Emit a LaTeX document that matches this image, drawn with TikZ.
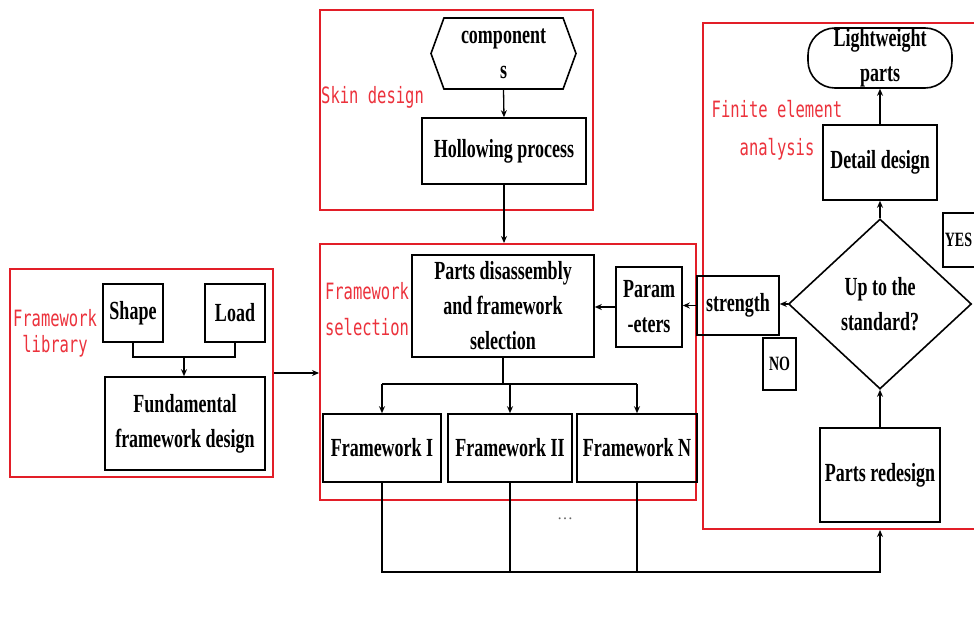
\documentclass[tikz,border=0pt]{standalone}
\usepackage{fontspec}
\setmainfont{Liberation Serif}
\newfontfamily\redfont{DejaVu Sans Mono}
\usetikzlibrary{arrows.meta,shapes.geometric,shapes.symbols}
\definecolor{grpred}{RGB}{226,30,40}
\definecolor{lblred}{RGB}{236,50,60}
\newcommand{\vstr}[1]{\raisebox{-2pt}{\scalebox{1}[1.45]{#1}}}
\newcommand{\rstr}[1]{\scalebox{1}[1.45]{#1}}
\begin{document}
\begin{tikzpicture}[x=1pt,y=-1pt,
  box/.style={draw=black, line width=1.6pt, font=\bfseries\fontsize{18}{35}\selectfont, align=center, inner sep=0pt},
  smallbox/.style={draw=black, line width=1.6pt, font=\bfseries\fontsize{14}{16}\selectfont, inner sep=0pt},
  grp/.style={draw=grpred, line width=2pt, inner sep=0pt},
  lbl/.style={text=lblred, align=center, inner sep=0pt},
  conn/.style={line width=1.3pt},
  arr/.style={conn, -{Stealth[length=7pt,width=6pt]}},
]
\useasboundingbox (0,0) rectangle (974,626);
\fill[white] (0,0) rectangle (974,626);
\clip (0,0) rectangle (974,626);

% group frames
\node[grp, minimum width=273pt, minimum height=200pt] (skin) at (456.5,110) {};
\node[grp, minimum width=376pt, minimum height=256pt] (fs) at (508,372) {};
\node[grp, minimum width=263pt, minimum height=208pt] (fl) at (141.5,373) {};
\node[grp, minimum width=275pt, minimum height=506pt] (fea) at (840.5,276) {};

% group labels
\node[lbl, anchor=west, font=\redfont\fontsize{15.5}{18}\selectfont] (skinlbl) at (321,97) {\rstr{Skin design}};
\node[lbl, font=\redfont\fontsize{15.5}{36}\selectfont] (fslbl) at (367,309) {\rstr{Framework}\\\rstr{selection}};
\node[lbl, font=\redfont\fontsize{15.5}{26}\selectfont] (fllbl) at (55,333) {\rstr{Framework}\\\rstr{library}};
\node[lbl, font=\redfont\fontsize{15.5}{38}\selectfont] (fealbl) at (777,130) {\rstr{Finite element}\\\rstr{analysis}};

% skin design
\node[box, shape=signal, signal to=west and east, signal pointer angle=140,
      minimum width=145pt, minimum height=71pt] (comp) at (503.5,53.5) {\vstr{component}\\\vstr{s}};
\node[box, minimum width=164pt, minimum height=66pt] (hollow) at (504,151) {\vstr{Hollowing process}};

% framework selection
\node[box, minimum width=182pt, minimum height=102pt] (parts) at (503,306) {\vstr{Parts disassembly}\\\vstr{and framework}\\\vstr{selection}};
\node[box, minimum width=66pt, minimum height=80pt] (param) at (649,307) {\vstr{Param}\\\vstr{-eters}};
\node[box, minimum width=118pt, minimum height=68pt] (fw1) at (382,448) {\vstr{Framework I}};
\node[box, minimum width=124pt, minimum height=68pt] (fw2) at (510,448) {\vstr{Framework II}};
\node[box, minimum width=120pt, minimum height=68pt] (fwn) at (637,448) {\vstr{Framework N}};

% framework library
\node[box, minimum width=60pt, minimum height=58pt] (shape) at (133,313) {\vstr{Shape}};
\node[box, minimum width=60pt, minimum height=58pt] (load) at (235,313) {\vstr{Load}};
\node[box, minimum width=160pt, minimum height=93pt] (fund) at (185,423.5) {\vstr{Fundamental}\\\vstr{framework design}};

% finite element analysis
\node[box, rounded corners=27pt, minimum width=144pt, minimum height=60pt] (lw) at (880,58) {\vstr{Lightweight}\\\vstr{parts}};
\node[box, minimum width=114pt, minimum height=75pt] (detail) at (880,162.5) {\vstr{Detail design}};
\node[box, shape=diamond, minimum width=183pt, minimum height=170pt] (dia) at (880,304) {\vstr{Up to the}\\\vstr{standard?}};
\node[box, minimum width=82pt, minimum height=59pt] (strength) at (738,305.5) {\vstr{strength}};
\node[smallbox, anchor=west, minimum height=54pt, inner xsep=2pt, text width=44pt, align=left] (yes) at (942,240) {\vstr{YES}};
\node[smallbox, minimum width=33pt, minimum height=52pt] (no) at (779.5,364) {\vstr{NO}};
\node[box, minimum width=120pt, minimum height=94pt] (redesign) at (880,475) {\vstr{Parts redesign}};

\node[text=black!60, font=\fontsize{16}{16}\selectfont] (dots) at (565,519) {\ldots};

% connectors
\draw[arr] (comp.south) -- (hollow.north);
\draw[arr] (hollow.south) -- (hollow.south |- fs.north);
\draw[arr] (fl.east) -- (fl.east -| fs.west);
\draw[arr] (param.west) -- (param.west -| parts.east);
\draw[arr] (strength.west) -- (strength.west -| param.east);
\draw[arr] (dia.west) -- (dia.west -| strength.east);
\draw[arr] (detail.north) -- (lw.south);
\draw[arr] (dia.north) -- (detail.south);
\draw[arr] (redesign.north) -- (dia.south);

\coordinate (br) at (503,384);
\draw[conn] (parts.south) -- (br);
\draw[conn] (fw1.north |- br) -- (fwn.north |- br);
\draw[arr] (fw1.north |- br) -- (fw1.north);
\draw[arr] (fw2.north |- br) -- (fw2.north);
\draw[arr] (fwn.north |- br) -- (fwn.north);

\coordinate (bl) at (382,572);
\draw[arr] (fw1.south) -- (fw1.south |- bl) -| (fea.south -| redesign.south);
\draw[conn] (fw2.south) -- (fw2.south |- bl);
\draw[conn] (fwn.south) -- (fwn.south |- bl);

\coordinate (j) at (184,357);
\draw[conn] (shape.south) -- (shape.south |- j) -| (load.south);
\draw[arr] (j) -- (j |- fund.north);
\end{tikzpicture}
\end{document}
